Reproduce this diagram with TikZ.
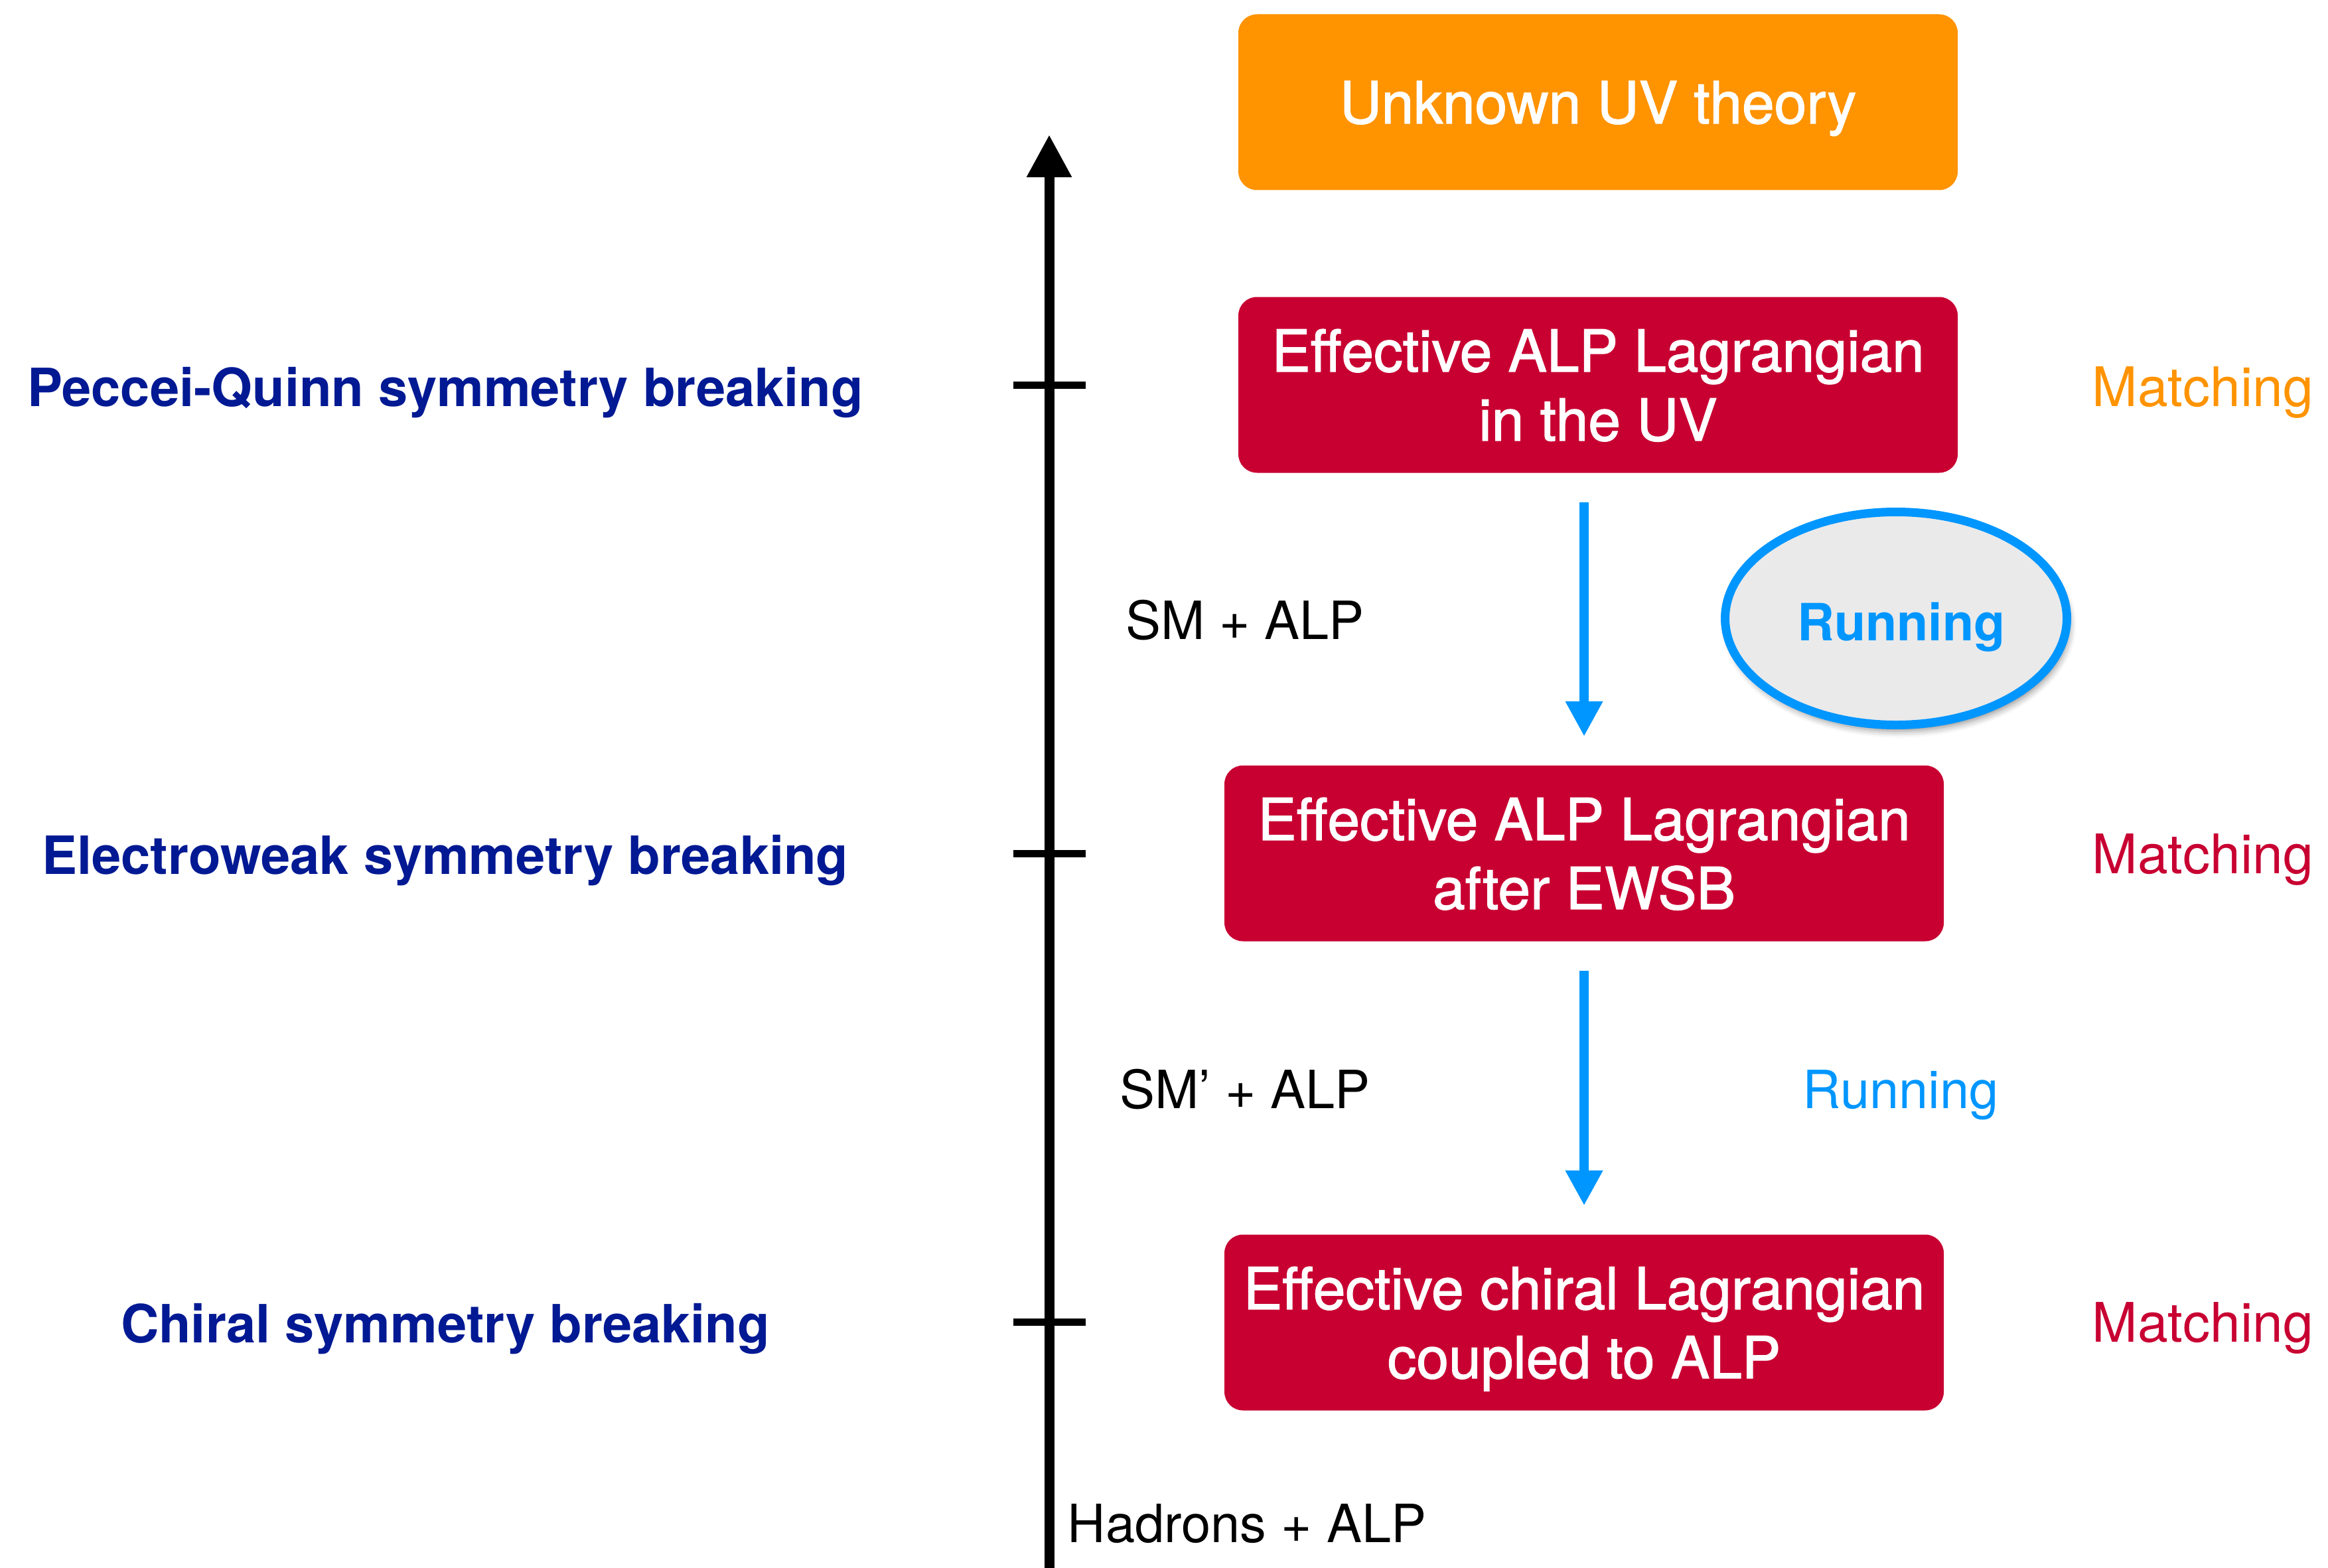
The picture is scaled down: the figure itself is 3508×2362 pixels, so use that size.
\documentclass[tikz,border=0pt]{standalone}
\usepackage{fontspec}
\setmainfont{TeX Gyre Heros}
\newfontfamily\medfont[FakeBold=1.5]{TeX Gyre Heros}
\usetikzlibrary{arrows.meta,shapes.geometric,shadows.blur,calc}

\definecolor{uvorange}{HTML}{FF9300}
\definecolor{eftred}{HTML}{C80032}
\definecolor{runblue}{HTML}{0096FF}
\definecolor{scaleblue}{HTML}{011993}
\definecolor{ovalgrey}{HTML}{EAEAEA}

\begin{document}
\begin{tikzpicture}[x=0.1mm,y=-0.1mm,
  stagebox/.style={rectangle, rounded corners=2.8mm, minimum width=108.4mm,
    minimum height=26.5mm, inner sep=0pt, align=center, text=white,
    font={\medfont\fontsize{24.9}{29.6}\selectfont}, text depth=0pt},
  eftbox/.style={stagebox, fill=eftred},
  scalelabel/.style={anchor=base, text=scaleblue, inner sep=0pt,
    font={\bfseries\fontsize{22.6}{27}\selectfont}},
  regimelabel/.style={text=black, inner sep=0pt, font={\fontsize{22.6}{27}\selectfont}},
  matchlabel/.style={anchor=base east, inner sep=0pt, font={\fontsize{23.4}{28}\selectfont}},
  axisline/.style={line width=1.5mm, -{Triangle[width=6.4mm,length=6.4mm]}},
  tickline/.style={line width=1.1mm},
  runarrow/.style={draw=runblue, line width=1.4mm,
    -{Triangle[width=5.3mm,length=5.3mm]}, shorten <=4.4mm, shorten >=4.3mm}
]
\useasboundingbox (0,0) rectangle (3508,2362);

% energy scale axis with ticks at the symmetry breaking scales
\coordinate (axbot) at (1581,2375);
\coordinate (axtop) at (1581,203);
\draw[axisline] (axbot) -- (axtop);
\coordinate (t1) at (1581,580);
\coordinate (t2) at (1581,1286);
\coordinate (t3) at (1581,1992);
\foreach \t in {t1,t2,t3}
  \draw[tickline] ([xshift=-5.4mm]\t) -- ([xshift=5.5mm]\t);

% theories along the scale
\node[stagebox, fill=uvorange] (uv) at (2408,154) {Unknown UV theory};
\node[eftbox] (b1) at (2408,580) {Effective ALP Lagrangian\\in the UV};
\node[eftbox] (b2) at (2387,1286) {Effective ALP Lagrangian\\after EWSB};
\node[eftbox] (b3) at (2387,1993) {Effective chiral Lagrangian\\coupled to ALP};

% running between the matching scales
\draw[runarrow] (b1.south -| b2.north) -- (b2.north);
\draw[runarrow] (b2.south) -- (b3.north);

\node[ellipse, draw=runblue, line width=1.3mm, fill=ovalgrey,
  minimum width=51.5mm, minimum height=32.1mm, inner sep=0pt,
  blur shadow={shadow xshift=0.4mm, shadow yshift=-0.9mm,
    shadow blur radius=1.0mm, shadow opacity=45}]
  (run1) at (2857,932) {};
\node[anchor=base, inner sep=0pt, text=runblue,
  font={\bfseries\fontsize{22}{26}\selectfont}]
  (run1text) at (2865,965) {Running};
\node[anchor=base, inner sep=0pt, text=runblue, font={\fontsize{22.6}{27}\selectfont}]
  (run2) at (2864,1670) {Running};

% symmetry breaking scales
\node[scalelabel] (pq) at (671,612) {Peccei-Quinn symmetry breaking};
\node[scalelabel] (ew) at (671,1317) {Electroweak symmetry breaking};
\node[scalelabel] (ch) at (671,2023) {Chiral symmetry breaking};

% field content in each regime
\node[regimelabel, anchor=base] (r1) at (1876,963) {SM + ALP};
\node[regimelabel, anchor=base] (r2) at (1876,1670) {SM’ + ALP};
\node[regimelabel, anchor=base west] (r3) at (1608,2324) {Hadrons + ALP};

% matching steps
\node[matchlabel, text=uvorange] (m1) at (3487,612) {Matching};
\node[matchlabel, text=eftred] (m2) at (3487,1316) {Matching};
\node[matchlabel, text=eftred] (m3) at (3487,2022) {Matching};
\end{tikzpicture}
\end{document}
